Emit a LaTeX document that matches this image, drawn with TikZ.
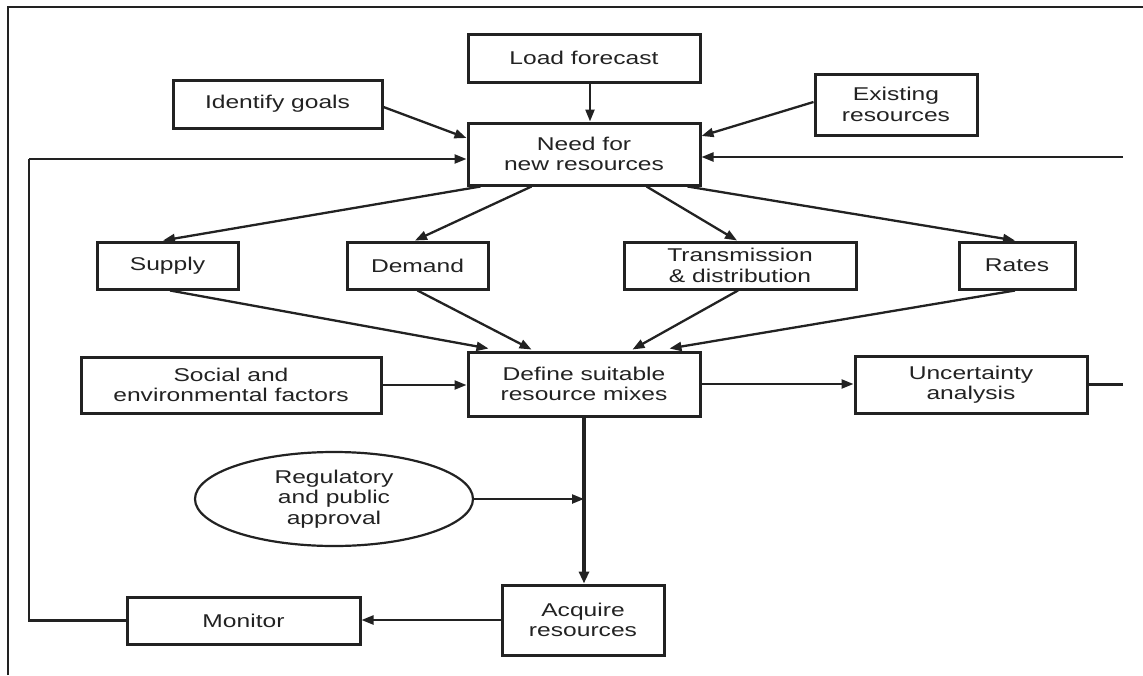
\documentclass[tikz,border=0pt]{standalone}
\usepackage{fontspec}
\setmainfont{Liberation Sans}[FakeStretch=1.33]
\usetikzlibrary{arrows.meta,shapes.geometric}
\definecolor{ink}{HTML}{222222}
\begin{document}
\begin{tikzpicture}[x=1pt,y=-1pt,
  every node/.style={font=\fontsize{18.5}{20.5}\selectfont, text=ink, align=center, inner sep=0pt},
  box/.style={draw=ink, line width=3pt, rectangle},
  oval/.style={draw=ink, line width=2.2pt, ellipse},
  link/.style={draw=ink, line width=2.3pt},
  arr/.style={link, -{Triangle[length=12pt,width=9pt]}},
  thickarr/.style={draw=ink, line width=3.2pt, -{Triangle[length=12pt,width=10pt]}},
  frame/.style={draw=ink, line width=2.6pt}]
\useasboundingbox (0,0) rectangle (1143,675);
\draw[frame] (8,675) -- (8,7) -- (1143,7);

% boxes
\node[box, minimum width=232pt, minimum height=48pt] (load)   at (584,58)     {Load forecast};
\node[box, minimum width=232pt, minimum height=62pt] (need)   at (584,154)    {Need for\\new resources};
\node[box, minimum width=209pt, minimum height=48pt] (goals)  at (277.5,104)  {Identify goals};
\node[box, minimum width=162pt, minimum height=61pt] (exist)  at (896,104.5)  {Existing\\resources};
\node[box, minimum width=141pt, minimum height=47pt] (supply) at (167.5,265.5) {Supply};
\node[box, minimum width=141pt, minimum height=47pt] (demand) at (417.5,265.5) {Demand};
\node[box, minimum width=232pt, minimum height=47pt] (trans)  at (740,265.5)  {Transmission\\\& distribution};
\node[box, minimum width=116pt, minimum height=47pt] (rates)  at (1017,265.5) {Rates};
\node[box, minimum width=300pt, minimum height=56pt] (social) at (231,385)    {Social and\\environmental factors};
\node[box, minimum width=232pt, minimum height=64pt] (define) at (584,384)    {Define suitable\\resource mixes};
\node[box, minimum width=232pt, minimum height=57pt] (uncert) at (971,384.5)  {Uncertainty\\analysis};
\node[oval, minimum width=278pt, minimum height=94pt] (reg)   at (334,499)    {Regulatory\\and public\\approval};
\node[box, minimum width=162pt, minimum height=70pt] (acq)    at (583,620)    {Acquire\\resources};
\node[box, minimum width=233pt, minimum height=47pt] (mon)    at (243.5,620.5) {Monitor};

% free ends of the feedback loops
\coordinate (fbL) at (29,159);
\coordinate (fbR) at (1123,157);

% inputs to the need for new resources
\draw[arr] ([xshift=6pt]load.south) -- ([xshift=6pt]need.north);
\draw[arr] ([yshift=-3pt]goals.east) -- ([yshift=16pt]need.west);
\draw[arr] ([yshift=2.5pt]exist.west) -- ([yshift=18pt]need.east);

% fan out to the four resource areas
\draw[arr] ([xshift=14pt]need.south west) -- ([xshift=-4.5pt]supply.north);
\draw[arr] ([xshift=65pt]need.south west) -- ([xshift=-2.5pt]demand.north);
\draw[arr] ([xshift=-55pt]need.south east) -- ([xshift=-3pt]trans.north);
\draw[arr] ([xshift=-14pt]need.south east) -- ([xshift=-2pt]rates.north);

% fan in to the resource mixes
\draw[arr] ([xshift=2.5pt]supply.south) -- ([xshift=22pt,yshift=2pt]define.north west);
\draw[arr] (demand.south) -- ([xshift=65pt,yshift=1pt]define.north west);
\draw[arr] ([xshift=-2pt]trans.south) -- ([xshift=-69pt,yshift=1pt]define.north east);
\draw[arr] ([xshift=-2pt]rates.south) -- ([xshift=-32pt,yshift=2pt]define.north east);

\draw[arr] (social.east) -- (social.east -| define.west);
\draw[arr] (define.east) -- (define.east -| uncert.west);
\draw[link] (uncert.east) -- (uncert.east -| fbR);

% approval and acquisition
\draw[thickarr] (define.south) -- (define.south |- acq.north);
\draw[arr] (reg.east) -- (reg.east -| define.south);
\draw[arr] (acq.west) -- (acq.west -| mon.east);

% feedback loops
\draw[link] (mon.west) -- (mon.west -| fbL) -- (fbL);
\draw[arr] (fbL) -- (fbL -| need.west);
\draw[arr] (fbR) -- (fbR -| need.east);
\end{tikzpicture}
\end{document}
